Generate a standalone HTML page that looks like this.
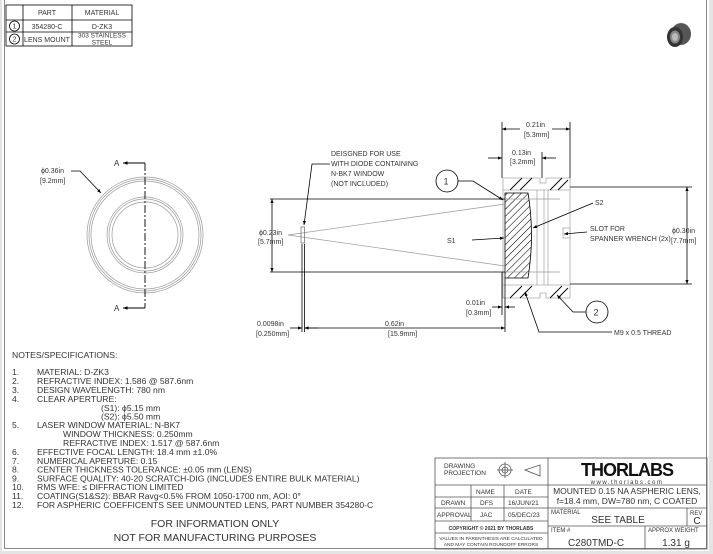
<!DOCTYPE html>
<html><head><meta charset="utf-8"><style>
html,body{margin:0;padding:0;background:#e4e4e4;}
svg{display:block;}
text{font-family:"Liberation Sans",sans-serif;fill:#333;}
</style></head><body>
<svg width="713" height="554" viewBox="0 0 713 554" xmlns="http://www.w3.org/2000/svg">
<defs>
<marker id="ar" viewBox="0 0 10 10" refX="10" refY="5" markerWidth="7" markerHeight="5" orient="auto-start-reverse"><path d="M0,1 L10,5 L0,9 z" fill="#000"/></marker>
<pattern id="hatch" width="5" height="5" patternUnits="userSpaceOnUse" patternTransform="rotate(45)"><line x1="0" y1="0" x2="0" y2="5" stroke="#000" stroke-width="1.1"/></pattern>
</defs>
<rect x="2" y="0" width="707" height="551" fill="#fff"/>
<rect x="4.5" y="-2" width="702" height="550.5" fill="none" stroke="#888" stroke-width="1"/>

<!-- parts table -->
<g stroke="#000" stroke-width="0.8" fill="none">
<rect x="6" y="5" width="126" height="41"/>
<line x1="23" y1="5" x2="23" y2="46"/><line x1="72" y1="5" x2="72" y2="46"/>
<line x1="6" y1="20" x2="132" y2="20"/><line x1="6" y1="32" x2="132" y2="32"/>
<circle cx="14.5" cy="26" r="5"/><circle cx="14.5" cy="39" r="5"/>
</g>
<g font-size="7" text-anchor="middle">
<text x="47" y="15">PART</text><text x="102" y="15">MATERIAL</text>
<text x="14.5" y="28.5">1</text><text x="14.5" y="41.5">2</text>
<text x="47" y="29">354280-C</text><text x="102" y="29">D-ZK3</text>
<text x="47" y="42">LENS MOUNT</text><text x="102" y="37.5" font-size="6.5">303 STAINLESS</text><text x="102" y="44.5" font-size="6.5">STEEL</text>
</g>

<!-- product icon -->
<g transform="translate(677,37)">
<ellipse cx="4" cy="-3" rx="10" ry="11" fill="#555"/>
<ellipse cx="-2" cy="0" rx="8" ry="10" fill="#333"/>
<ellipse cx="-2" cy="0" rx="5" ry="6.5" fill="#888"/>
<ellipse cx="-2" cy="0" rx="3" ry="4" fill="#bbb"/>
</g>

<!-- front view -->
<g fill="none" stroke="#999" stroke-width="0.7">
<circle cx="145" cy="235" r="58"/><circle cx="145" cy="235" r="56"/><circle cx="145" cy="235" r="54"/>
<circle cx="145" cy="235" r="38"/><circle cx="145" cy="235" r="36"/><circle cx="145" cy="235" r="33"/>
</g>
<line x1="145" y1="163" x2="145" y2="308" stroke="#000" stroke-width="0.9" stroke-dasharray="8,2,2,2"/>
<line x1="145" y1="163" x2="123" y2="163" stroke="#000" stroke-width="0.9" marker-end="url(#ar)"/>
<line x1="145" y1="308" x2="123" y2="308" stroke="#000" stroke-width="0.9" marker-end="url(#ar)"/>
<g font-size="8"><text x="114" y="166">A</text><text x="114" y="311">A</text></g>
<polyline points="71,171 80,171 101,193" fill="none" stroke="#000" stroke-width="0.8" marker-end="url(#ar)"/>
<g font-size="7"><text x="41" y="173">ϕ0.36in</text><text x="40" y="183">[9.2mm]</text></g>

<!-- section view -->
<g fill="none" stroke="#aaa" stroke-width="0.8">
<polygon points="503,178 540,178 540,183 546,183 546,178 570,178 570,298 546,298 546,293 540,293 540,298 503,298"/>
<line x1="503" y1="190" x2="570" y2="190"/><line x1="503" y1="285" x2="570" y2="285"/>
<line x1="537" y1="190" x2="537" y2="285"/><line x1="544" y1="190" x2="544" y2="285"/>
<line x1="548" y1="190" x2="548" y2="285"/>
<rect x="563" y="228" width="7" height="10"/>
</g>
<g stroke="#000" stroke-width="0.9">
<line x1="510" y1="190" x2="522" y2="178"/><line x1="520" y1="190" x2="532" y2="178"/>
<line x1="550" y1="190" x2="562" y2="178"/><line x1="558" y1="190" x2="568" y2="180"/>
<line x1="510" y1="298" x2="522" y2="286"/><line x1="520" y1="298" x2="532" y2="286"/>
<line x1="550" y1="298" x2="562" y2="286"/><line x1="558" y1="298" x2="568" y2="288"/>
</g>
<path d="M505,193 L528,193 Q535,235 528,278 L505,278 Z" fill="url(#hatch)" stroke="#000" stroke-width="0.8"/>
<g stroke="#999" stroke-width="0.7">
<line x1="288" y1="235" x2="505" y2="204"/><line x1="288" y1="235" x2="505" y2="266"/>
<line x1="505" y1="199" x2="560" y2="199"/><line x1="505" y1="272" x2="560" y2="272"/>
</g>
<rect x="301" y="227" width="3.5" height="16" fill="none" stroke="#666" stroke-width="0.7"/>
<g stroke="#000" stroke-width="0.8" fill="none">
<line x1="270" y1="199" x2="505" y2="199"/><line x1="270" y1="272" x2="505" y2="272"/>
<line x1="272" y1="199" x2="272" y2="272" marker-start="url(#ar)" marker-end="url(#ar)"/>
<line x1="302" y1="244" x2="302" y2="332"/><line x1="304.5" y1="244" x2="304.5" y2="332"/>
<line x1="505" y1="278" x2="505" y2="332"/><line x1="502" y1="272" x2="502" y2="315"/>
<line x1="304.5" y1="328" x2="505" y2="328" marker-start="url(#ar)" marker-end="url(#ar)"/>
<line x1="290" y1="328" x2="302" y2="328" marker-end="url(#ar)"/>
<line x1="318" y1="328" x2="304.5" y2="328"/>
<line x1="492" y1="307" x2="502" y2="307" marker-end="url(#ar)"/><line x1="515" y1="307" x2="505" y2="307" marker-end="url(#ar)"/>
<line x1="502" y1="122" x2="502" y2="178"/><line x1="570" y1="122" x2="570" y2="178"/>
<line x1="502" y1="129" x2="520" y2="129" marker-start="url(#ar)"/><line x1="552" y1="129" x2="570" y2="129" marker-end="url(#ar)"/>
<line x1="542" y1="152" x2="542" y2="178"/>
<line x1="488" y1="158" x2="502" y2="158" marker-end="url(#ar)"/><line x1="556" y1="158" x2="542" y2="158" marker-end="url(#ar)"/>
<line x1="570" y1="187" x2="692" y2="187"/><line x1="570" y1="284" x2="692" y2="284"/>
<line x1="687" y1="187" x2="687" y2="284" marker-start="url(#ar)" marker-end="url(#ar)"/>
<polyline points="330,164 312,164 304,225" marker-end="url(#ar)"/>
<circle cx="447" cy="181" r="11"/><polyline points="458,181 473,181 503,200" marker-end="url(#ar)"/>
<circle cx="597" cy="312" r="11"/><polyline points="586,312 573,312 557,295" marker-end="url(#ar)"/>
<line x1="472" y1="240" x2="504" y2="238" marker-end="url(#ar)"/>
<line x1="593" y1="203" x2="533" y2="228" marker-end="url(#ar)"/>
<line x1="587" y1="232" x2="564" y2="234" marker-end="url(#ar)"/>
<polyline points="612,332 539,332 525,292" marker-end="url(#ar)"/>
</g>
<g font-size="7">
<text x="331" y="156">DEISGNED FOR USE</text><text x="331" y="166">WITH DIODE CONTAINING</text>
<text x="331" y="176">N-BK7 WINDOW</text><text x="331" y="186">(NOT INCLUDED)</text>
<text x="259" y="235">ϕ0.23in</text><text x="258" y="244">[5.7mm]</text>
<text x="257" y="326">0.0098in</text><text x="256" y="336">[0.250mm]</text>
<text x="385" y="326">0.62in</text><text x="388" y="336">[15.9mm]</text>
<text x="466" y="305">0.01in</text><text x="466" y="315">[0.3mm]</text>
<text x="526" y="127">0.21in</text><text x="524" y="137">[5.3mm]</text>
<text x="512" y="155">0.13in</text><text x="510" y="164">[3.2mm]</text>
<text x="443.5" y="184.5" font-size="9">1</text><text x="593.5" y="315.5" font-size="9">2</text>
<text x="447" y="243">S1</text><text x="595" y="205">S2</text>
<text x="590" y="231">SLOT FOR</text><text x="590" y="241">SPANNER WRENCH (2x)</text>
<text x="672" y="233">ϕ0.30in</text><text x="671" y="243">[7.7mm]</text>
<text x="614" y="335">M9 x 0.5 THREAD</text>
</g>

<!-- notes -->
<g font-size="8.6">
<text x="12" y="358">NOTES/SPECIFICATIONS:</text>
<text x="12" y="375">1.</text><text x="37" y="375">MATERIAL: D-ZK3</text>
<text x="12" y="384">2.</text><text x="37" y="384">REFRACTIVE INDEX: 1.586 @ 587.6nm</text>
<text x="12" y="393">3.</text><text x="37" y="393">DESIGN WAVELENGTH: 780 nm</text>
<text x="12" y="402">4.</text><text x="37" y="402">CLEAR APERTURE:</text>
<text x="101" y="411">(S1): ϕ5.15 mm</text>
<text x="101" y="419.5">(S2): ϕ5.50 mm</text>
<text x="12" y="428">5.</text><text x="37" y="428">LASER WINDOW MATERIAL: N-BK7</text>
<text x="63" y="437">WINDOW THICKNESS: 0.250mm</text>
<text x="63" y="446">REFRACTIVE INDEX: 1.517 @ 587.6nm</text>
<text x="12" y="455">6.</text><text x="37" y="455">EFFECTIVE FOCAL LENGTH: 18.4 mm ±1.0%</text>
<text x="12" y="464">7.</text><text x="37" y="464">NUMERICAL APERTURE: 0.15</text>
<text x="12" y="472.5">8.</text><text x="37" y="472.5">CENTER THICKNESS TOLERANCE: ±0.05 mm (LENS)</text>
<text x="12" y="481.5">9.</text><text x="37" y="481.5">SURFACE QUALITY: 40-20 SCRATCH-DIG (INCLUDES ENTIRE BULK MATERIAL)</text>
<text x="12" y="490">10.</text><text x="37" y="490">RMS WFE: ≤ DIFFRACTION LIMITED</text>
<text x="12" y="499">11.</text><text x="37" y="499">COATING(S1&amp;S2): BBAR Ravg&lt;0.5% FROM 1050-1700 nm, AOI: 0°</text>
<text x="12" y="508">12.</text><text x="37" y="508">FOR ASPHERIC COEFFICENTS SEE UNMOUNTED LENS, PART NUMBER 354280-C</text>
</g>
<g font-size="10.5" text-anchor="middle">
<text x="215" y="527">FOR INFORMATION ONLY</text>
<text x="215" y="541">NOT FOR MANUFACTURING PURPOSES</text>
</g>

<!-- title block -->
<g stroke="#555" stroke-width="0.8" fill="none">
<rect x="435" y="458" width="272" height="91"/>
<line x1="548" y1="458" x2="548" y2="549"/>
<line x1="435" y1="485" x2="548" y2="485"/><line x1="435" y1="497" x2="548" y2="497"/>
<line x1="435" y1="508" x2="548" y2="508"/><line x1="435" y1="521" x2="548" y2="521"/>
<line x1="435" y1="533" x2="548" y2="533"/>
<line x1="471" y1="485" x2="471" y2="521"/><line x1="504" y1="485" x2="504" y2="521"/>
<line x1="548" y1="485" x2="707" y2="485"/><line x1="548" y1="508" x2="707" y2="508"/>
<line x1="548" y1="526" x2="707" y2="526"/>
<line x1="687" y1="508" x2="687" y2="526"/><line x1="645" y1="526" x2="645" y2="549"/>
<circle cx="505" cy="470" r="6"/><circle cx="505" cy="470" r="3"/>
<line x1="497" y1="470" x2="513" y2="470"/><line x1="505" y1="462" x2="505" y2="478"/>
<polygon points="525,470 540,465 540,476"/>
</g>
<g font-size="6.5">
<text x="444" y="468">DRAWING</text><text x="444" y="475">PROJECTION</text>
<text x="476" y="494">NAME</text><text x="515" y="494">DATE</text>
<text x="441" y="505">DRAWN</text><text x="480" y="505">DFS</text><text x="508" y="505">16/JUN/21</text>
<text x="437" y="517">APPROVAL</text><text x="480" y="517">JAC</text><text x="508" y="517">05/DEC/23</text>
<text x="491" y="530" font-size="5" text-anchor="middle" font-weight="bold">COPYRIGHT © 2021 BY THORLABS</text>
<text x="491" y="540" font-size="4.8" text-anchor="middle">VALUES IN PARENTHESIS ARE CALCULATED</text>
<text x="491" y="546" font-size="4.8" text-anchor="middle">AND MAY CONTAIN ROUNDOFF ERRORS</text>
<text x="551" y="514" font-size="6">MATERIAL</text><text x="690" y="515" font-size="6">REV</text>
<text x="551" y="532" font-size="6">ITEM #</text><text x="648" y="532" font-size="6">APPROX WEIGHT</text>
</g>
<text x="627" y="476" font-size="18" font-weight="bold" text-anchor="middle" style="fill:#111;letter-spacing:-1px">THORLABS</text>
<text x="627" y="484" font-size="6" text-anchor="middle" style="letter-spacing:1.5px">www.thorlabs.com</text>
<text x="627" y="494" font-size="8.5" text-anchor="middle">MOUNTED 0.15 NA ASPHERIC LENS,</text>
<text x="627" y="504" font-size="8.5" text-anchor="middle">f=18.4 mm, DW=780 nm, C COATED</text>
<text x="618" y="523" font-size="10" text-anchor="middle">SEE TABLE</text>
<text x="697" y="524" font-size="10" text-anchor="middle">C</text>
<text x="596" y="546" font-size="10" text-anchor="middle">C280TMD-C</text>
<text x="676" y="546" font-size="10" text-anchor="middle">1.31 g</text>
</svg>
</body></html>
